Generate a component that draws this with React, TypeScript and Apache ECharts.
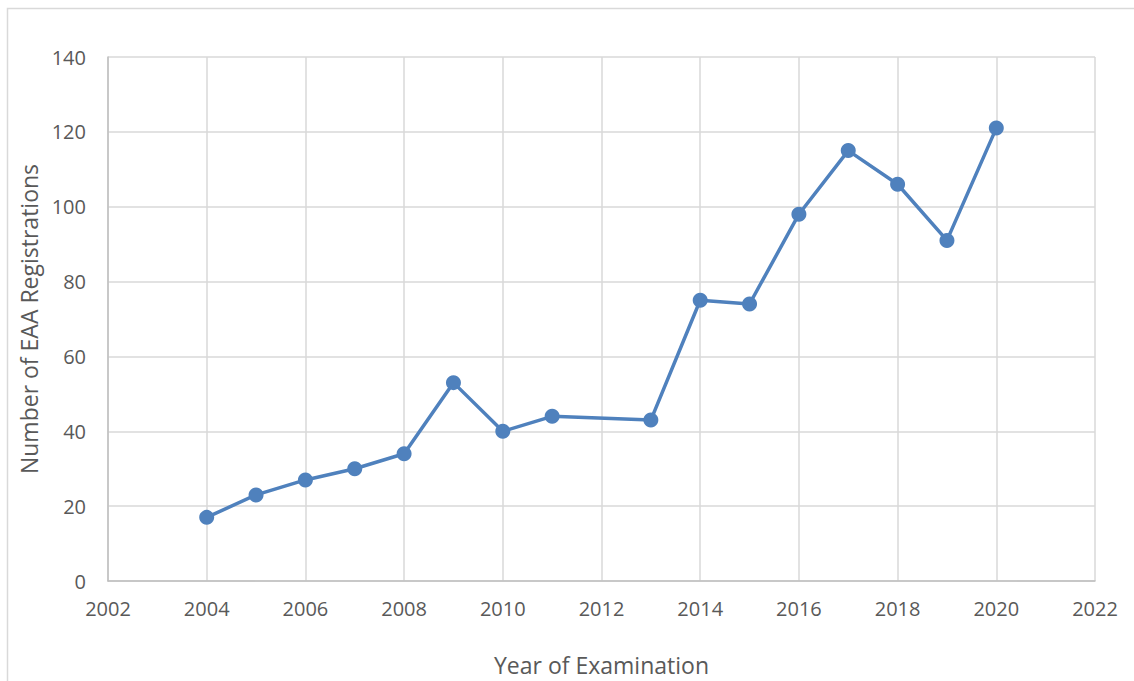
import React, { useEffect, useRef } from "react";
import * as echarts from "echarts";

const years = [2004, 2005, 2006, 2007, 2008, 2009, 2010, 2011, 2013, 2014, 2015, 2016, 2017, 2018, 2019, 2020];
const registrations = [17, 23, 27, 30, 34, 53, 40, 44, 43, 75, 74, 98, 115, 106, 91, 121];
const xAxisTitle = "Year of Examination";
const yAxisTitle = "Number of EAA Registrations";

const FONT = "'Open Sans', 'Liberation Sans', sans-serif";
const TEXT = "#595959";

export default function App() {
  const ref = useRef<HTMLDivElement>(null);
  useEffect(() => {
    if (!ref.current) return;
    const chart = echarts.init(ref.current, undefined, { renderer: "svg" });
    const points = years.map((y, i) => [y, registrations[i]]);
    chart.setOption({
      animation: false,
      backgroundColor: "#ffffff",
      textStyle: { fontFamily: FONT },
      graphic: [
        {
          type: "rect",
          shape: { x: 7.5, y: 8.5, width: 1300, height: 1000 },
          style: { fill: "none", stroke: "#d9d9d9", lineWidth: 1.5 },
          silent: true,
          z: -10,
        },
      ],
      grid: { left: 108, top: 57, right: 39, bottom: 99, containLabel: false },
      xAxis: {
        type: "value",
        min: 2002,
        max: 2022,
        interval: 2,
        name: xAxisTitle,
        nameLocation: "middle",
        nameGap: 72,
        nameTextStyle: { color: TEXT, fontSize: 23, fontFamily: FONT },
        axisLine: { show: true, lineStyle: { color: "#bfbfbf", width: 1.5 } },
        axisTick: { show: false },
        axisLabel: { color: TEXT, fontSize: 20, fontFamily: FONT, margin: 17, formatter: (v: number) => String(v) },
        splitLine: { show: true, lineStyle: { color: "#d9d9d9", width: 1.5 } },
      },
      yAxis: {
        type: "value",
        min: 0,
        max: 140,
        interval: 20,
        name: yAxisTitle,
        nameLocation: "middle",
        nameGap: 63,
        nameTextStyle: { color: TEXT, fontSize: 23, fontFamily: FONT },
        axisLine: { show: true, lineStyle: { color: "#bfbfbf", width: 1.5 } },
        axisTick: { show: false },
        axisLabel: { color: TEXT, fontSize: 20, fontFamily: FONT, margin: 22 },
        splitLine: { show: true, lineStyle: { color: "#d9d9d9", width: 1.5 } },
      },
      series: [
        {
          type: "line",
          data: points,
          symbol: "circle",
          symbolSize: 15,
          lineStyle: { color: "#4f81bd", width: 3.5 },
          itemStyle: { color: "#4f81bd" },
        },
      ],
    });
    return () => chart.dispose();
  }, []);
  return (
    <div
      ref={ref}
      style={{ position: "absolute", left: 0, top: 0, width: 1134, height: 681 }}
    />
  );
}
